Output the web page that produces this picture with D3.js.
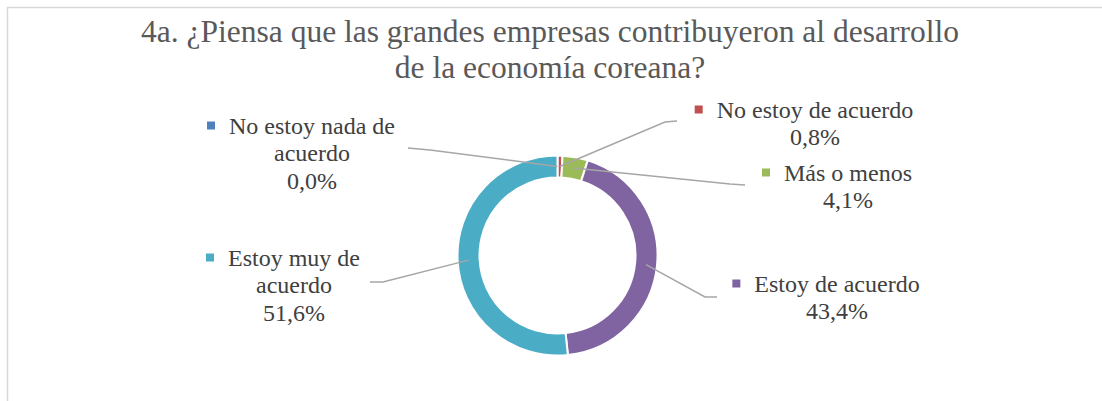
<!DOCTYPE html>
<html><head><meta charset="utf-8">
<script src="https://cdn.jsdelivr.net/npm/d3@7"></script>
</head><body style="margin:0">
<svg id="c" width="1102" height="401"></svg>
<script>
const categories = ["No estoy nada de acuerdo","No estoy de acuerdo","Más o menos","Estoy de acuerdo","Estoy muy de acuerdo"];
const values = [0.0, 0.8, 4.1, 43.4, 51.6];
const valueLabels = ["0,0%","0,8%","4,1%","43,4%","51,6%"];
const colors = ["#4F81BD","#C0504D","#9BBB59","#8064A2","#4BACC6"];
const labelLines = [["No estoy nada de","acuerdo"],["No estoy de acuerdo"],["Más o menos"],["Estoy de acuerdo"],["Estoy muy de","acuerdo"]];
const titleLines = ["4a. ¿Piensa que las grandes empresas contribuyeron al desarrollo","de la economía coreana?"];

// layout (label box positions: centre x, first line centre y, leader elbow and end point)
const layout = [
  {x:312, y:126, ex:430, ey:150, lx:408, ly:148},
  {x:815, y:110, ex:665, ey:122, lx:677, ly:121},
  {x:848, y:173, ex:730, ey:184, lx:745, ly:185},
  {x:837, y:284, ex:705, ey:297, lx:717, ly:297},
  {x:294, y:258, ex:383, ey:282, lx:370, ly:282}
];

const FONT = `"Liberation Serif", monospace`;
const svg = d3.select("#c");
const cx = 557.5, cy = 255.5, R = 100, r = 78;

svg.append("rect").attr("x",7.5).attr("y",7.5).attr("width",1120).attr("height",420)
  .attr("fill","#fff").attr("stroke","#d9d9d9").attr("stroke-width",1.5);

svg.append("g").selectAll("text").data(titleLines).join("text")
  .attr("x",550).attr("y",(d,i)=>42+i*36).attr("text-anchor","middle")
  .attr("font-size",31.5).attr("fill","#595959")
  .style("font-family",FONT).text(d=>d);

const pie = d3.pie().sort(null).value(d=>d);
const arcs = pie(values);
const arc = d3.arc().innerRadius(r).outerRadius(R);
const g = svg.append("g").attr("transform",`translate(${cx},${cy})`);
g.selectAll("path").data(arcs).join("path")
  .attr("d",arc).attr("fill",(d,i)=>colors[i]).attr("stroke","#fff").attr("stroke-width",2);

const anchorArc = d3.arc().innerRadius(89).outerRadius(89);
const lg = svg.append("g");
arcs.forEach((a,i)=>{
  const c = anchorArc.centroid(a);
  const L = layout[i];
  lg.append("path").attr("d",d3.line()([[cx+c[0],cy+c[1]],[L.ex,L.ey],[L.lx,L.ly]]))
    .attr("fill","none").attr("stroke","#a6a6a6").attr("stroke-width",1.5);
});

const lh = 27.5, fs = 24;
layout.forEach((L,i)=>{
  const lines = labelLines[i].concat([valueLabels[i]]);
  const tg = svg.append("g");
  lines.forEach((t,j)=>{
    const te = tg.append("text").attr("x",L.x).attr("y",L.y+j*lh).attr("dy","0.33em")
      .attr("text-anchor","middle").attr("font-size",fs).attr("fill","#404040")
      .style("font-family",FONT).text(t);
    if(j===0){
      const w = te.node().getComputedTextLength();
      tg.append("rect").attr("x",L.x-w/2-22).attr("y",L.y-4.5).attr("width",8).attr("height",8)
        .attr("fill",colors[i]);
    }
  });
});
</script>
</body></html>
